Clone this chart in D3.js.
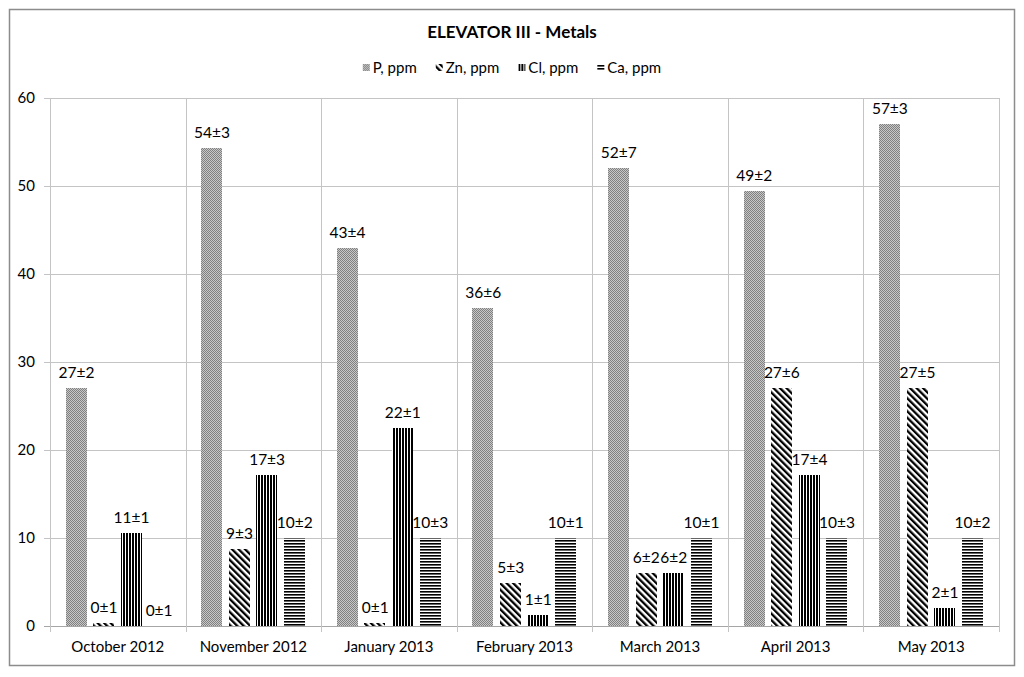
<!DOCTYPE html>
<html>
<head>
<meta charset="utf-8">
<script src="https://cdn.jsdelivr.net/npm/d3@7"></script>
<style>
  html, body { margin: 0; padding: 0; background: #fff; }
  svg { display: block; }
  text { font-family: Lato, "Open Sans", sans-serif; fill: #000; }
</style>
</head>
<body>
<svg id="chart" width="1024" height="677"></svg>
<script>
const title = "ELEVATOR III - Metals";
const categories = ["October 2012", "November 2012", "January 2013", "February 2013", "March 2013", "April 2013", "May 2013"];
const seriesNames = ["P, ppm", "Zn, ppm", "Cl, ppm", "Ca, ppm"];
const pValues  = [27, 54.3, 43, 36.1, 52, 49.4, 57];
const znValues = [0.3, 8.7, 0.3, 4.9, 6, 27, 27];
const clValues = [10.6, 17.2, 22.5, 1.3, 6, 17.2, 2];
const caValues = [0, 10, 10, 10, 10, 10, 10];
const pLabels  = ["27±2", "54±3", "43±4", "36±6", "52±7", "49±2", "57±3"];
const znLabels = ["0±1", "9±3", "0±1", "5±3", "6±2", "27±6", "27±5"];
const clLabels = ["11±1", "17±3", "22±1", "1±1", "6±2", "17±4", "2±1"];
const caLabels = ["0±1", "10±2", "10±3", "10±1", "10±1", "10±3", "10±2"];
const yTicks = [0, 10, 20, 30, 40, 50, 60];

const seriesValues = [pValues, znValues, clValues, caValues];
const seriesLabels = [pLabels, znLabels, clLabels, caLabels];
const patternIds = ["patP", "patZn", "patCl", "patCa"];

const svg = d3.select("#chart");
const defs = svg.append("defs");

// P: fine gray checker
const pP = defs.append("pattern").attr("id", "patP").attr("patternUnits", "userSpaceOnUse")
  .attr("width", 2).attr("height", 2);
pP.append("rect").attr("width", 2).attr("height", 2).attr("fill", "#c8c8c8");
pP.append("rect").attr("x", 0).attr("y", 0).attr("width", 1).attr("height", 1).attr("fill", "#808080").attr("shape-rendering", "crispEdges");
pP.append("rect").attr("x", 1).attr("y", 1).attr("width", 1).attr("height", 1).attr("fill", "#808080").attr("shape-rendering", "crispEdges");

// Zn: diagonal "\" stripes
const pZn = defs.append("pattern").attr("id", "patZn").attr("patternUnits", "userSpaceOnUse")
  .attr("width", 4.6).attr("height", 4.6).attr("patternTransform", "rotate(-45)");
pZn.append("rect").attr("width", 4.6).attr("height", 4.6).attr("fill", "#fff");
pZn.append("rect").attr("width", 2.3).attr("height", 4.6).attr("fill", "#000");

// Cl: vertical stripes
const pCl = defs.append("pattern").attr("id", "patCl").attr("patternUnits", "userSpaceOnUse")
  .attr("width", 3).attr("height", 3);
pCl.append("rect").attr("width", 3).attr("height", 3).attr("fill", "#fff");
pCl.append("rect").attr("width", 2).attr("height", 3).attr("fill", "#000");

// Ca: horizontal stripes
const pCa = defs.append("pattern").attr("id", "patCa").attr("patternUnits", "userSpaceOnUse")
  .attr("width", 3).attr("height", 3);
pCa.append("rect").attr("width", 3).attr("height", 3).attr("fill", "#fff");
pCa.append("rect").attr("width", 3).attr("height", 1.6).attr("fill", "#000");

// Outer chart border
svg.append("rect").attr("x", 9.5).attr("y", 9.5).attr("width", 1005).attr("height", 656)
  .attr("fill", "#fff").attr("stroke", "#8c8c8c").attr("stroke-width", 1.5);

const plot = { left: 50, right: 999, top: 98, bottom: 626 };

const x = d3.scaleBand().domain(categories).range([plot.left, plot.right]).padding(0);
const xInner = d3.scaleBand().domain(d3.range(4)).range([0, x.bandwidth()])
  .paddingInner(0.22).paddingOuter(0.57);
const y = d3.scaleLinear().domain([0, 60]).range([plot.bottom, plot.top]);

// Horizontal gridlines
svg.append("g").selectAll("line").data(yTicks).join("line")
  .attr("x1", plot.left - 6).attr("x2", plot.right)
  .attr("y1", d => Math.round(y(d)) + 0.5).attr("y2", d => Math.round(y(d)) + 0.5)
  .attr("stroke", d => d === 0 ? "#a6a6a6" : "#c4c4c4").attr("stroke-width", 1);

// Vertical gridlines at category boundaries
const bounds = categories.map(c => x(c)).concat([plot.right]);
svg.append("g").selectAll("line").data(bounds).join("line")
  .attr("x1", d => Math.round(d) + 0.5).attr("x2", d => Math.round(d) + 0.5)
  .attr("y1", plot.top).attr("y2", plot.bottom + 6)
  .attr("stroke", "#c4c4c4").attr("stroke-width", 1);

// Y tick labels
svg.append("g").selectAll("text").data(yTicks).join("text")
  .attr("x", 35).attr("y", d => y(d)).attr("dy", "0.35em")
  .attr("text-anchor", "end").style("font-size", "15px").text(d => d);

// Category labels
svg.append("g").selectAll("text").data(categories).join("text")
  .attr("x", d => x(d) + x.bandwidth() / 2).attr("y", 652)
  .attr("text-anchor", "middle").style("font-size", "15px").text(d => d);

// Bars
const barData = [];
categories.forEach((c, ci) => {
  seriesValues.forEach((vals, si) => {
    barData.push({ cat: c, s: si, v: vals[ci], label: seriesLabels[si][ci] });
  });
});

svg.append("g").selectAll("rect").data(barData).join("rect")
  .attr("x", d => Math.round(x(d.cat) + xInner(d.s)))
  .attr("width", Math.round(xInner.bandwidth()))
  .attr("y", d => y(d.v))
  .attr("height", d => y(0) - y(d.v))
  .attr("shape-rendering", "crispEdges")
  .attr("fill", d => `url(#${patternIds[d.s]})`);

// Data labels
svg.append("g").selectAll("text").data(barData).join("text")
  .attr("x", d => x(d.cat) + xInner(d.s) + xInner.bandwidth() / 2)
  .attr("y", d => y(d.v) - 10)
  .attr("text-anchor", "middle").style("font-size", "15.5px")
  .text(d => d.label);

// Title
svg.append("text").attr("x", 512).attr("y", 38).attr("text-anchor", "middle")
  .style("font-size", "17px").style("font-weight", "bold").text(title);

// Legend
const legend = svg.append("g");
const items = legend.selectAll("g").data(seriesNames).join("g");
items.append("rect").attr("x", 0).attr("y", -4).attr("width", 7).attr("height", 7)
  .attr("fill", (d, i) => `url(#${patternIds[i]})`);
items.append("text").attr("x", 10).attr("y", 0).attr("dy", "0.35em")
  .style("font-size", "15px").text(d => d);
const widths = [];
items.each(function () { widths.push(this.querySelector("text").getComputedTextLength() + 10); });
const gap = 19;
const total = d3.sum(widths) + gap * (widths.length - 1);
const start = 512 - total / 2;
items.attr("transform", (d, i) => {
  const tx = start + d3.sum(widths.slice(0, i)) + gap * i;
  return `translate(${tx},68)`;
});
</script>
</body>
</html>
